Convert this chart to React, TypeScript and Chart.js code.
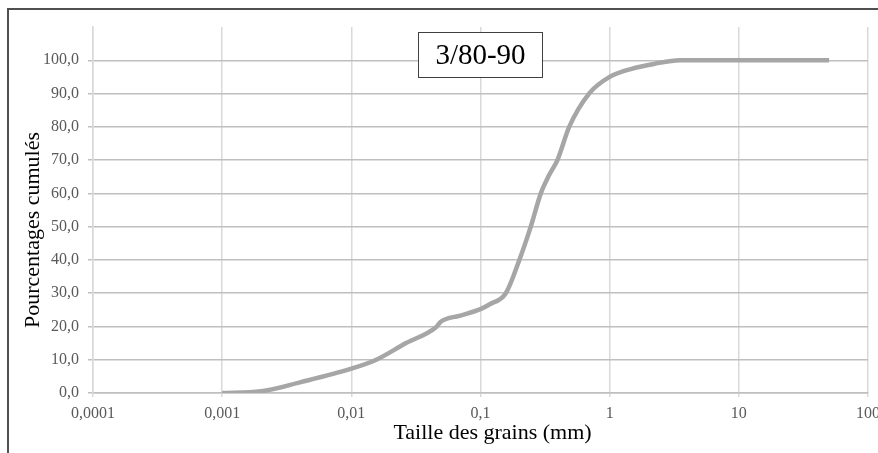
import React, { useEffect, useRef } from 'react';
import { Chart, registerables } from 'chart.js';

Chart.register(...registerables);

// ---- data ----
const grainSizes = [0.001, 0.002, 0.004, 0.01, 0.0156, 0.0265, 0.045, 0.0495, 0.0686, 0.1, 0.117, 0.157, 0.2, 0.245, 0.293, 0.34, 0.394, 0.486, 0.693, 1, 1.5, 2.2, 3.5, 50];
const cumulativePercent = [0, 0.5, 3.2, 7.3, 10, 15, 19.7, 21.5, 23.2, 25.2, 26.6, 30, 40, 50, 60, 65.5, 70, 80, 90, 95, 97.5, 98.9, 100, 100];
const xTickValues = [0.0001, 0.001, 0.01, 0.1, 1, 10, 100];
const yMin = 0;
const yMax = 110;
const yStep = 10;
const chartLabel = '3/80-90';
const xTitle = 'Taille des grains (mm)';
const yTitle = 'Pourcentages cumulés';

const SERIF = '"Liberation Serif", "Times New Roman", serif';

const fmtX = (v: number) => String(v).replace('.', ',');
const fmtY = (v: number) => (v >= yMax ? '' : v.toFixed(1).replace('.', ','));

const annotationsPlugin = {
  id: 'annotations',
  afterDraw(chart: any) {
    const { ctx, chartArea: a } = chart;
    const cx = (a.left + a.right) / 2;
    const cy = (a.top + a.bottom) / 2;
    ctx.save();
    ctx.fillStyle = '#000';
    ctx.font = `22px ${SERIF}`;
    ctx.textAlign = 'center';
    ctx.textBaseline = 'middle';
    ctx.fillText(xTitle, cx + 12, a.bottom + 40);
    ctx.save();
    ctx.translate(a.left - 60, cy + 20);
    ctx.rotate(-Math.PI / 2);
    ctx.fillText(yTitle, 0, 0);
    ctx.restore();

    // boxed label
    const bw = 124;
    const bh = 45;
    const bx = Math.round(cx - bw / 2) - 0.5;
    const by = Math.round(a.top + 5) + 0.5;
    ctx.fillStyle = '#fff';
    ctx.fillRect(bx, by, bw, bh);
    ctx.strokeStyle = '#404040';
    ctx.lineWidth = 1;
    ctx.strokeRect(bx, by, bw, bh);
    ctx.fillStyle = '#000';
    ctx.font = `29px ${SERIF}`;
    ctx.fillText(chartLabel, bx + bw / 2, by + bh / 2 + 1);
    ctx.restore();
  },
};

export default function App() {
  const canvasRef = useRef<HTMLCanvasElement | null>(null);

  useEffect(() => {
    const canvas = canvasRef.current;
    if (!canvas) return;
    const chart = new Chart(canvas, {
      type: 'line',
      data: {
        datasets: [
          {
            label: chartLabel,
            data: grainSizes.map((x, i) => ({ x, y: cumulativePercent[i] })),
            borderColor: '#A6A6A6',
            borderWidth: 4.5,
            pointRadius: 0,
            fill: false,
            cubicInterpolationMode: 'monotone',
          },
        ],
      },
      options: {
        animation: false,
        responsive: false,
        devicePixelRatio: 1,
        layout: { padding: { top: 27, right: 10, bottom: 0, left: 0 } },
        plugins: {
          legend: { display: false },
          tooltip: { enabled: false },
          title: { display: false },
        },
        scales: {
          x: {
            type: 'logarithmic',
            position: 'bottom',
            min: 0.0001,
            max: 100,
            afterBuildTicks: (s: any) => {
              s.ticks = xTickValues.map((v) => ({ value: v }));
            },
            afterFit: (s: any) => {
              s.height = 60;
              s.paddingLeft = 0;
              s.paddingRight = 0;
            },
            ticks: {
              autoSkip: false,
              maxRotation: 0,
              padding: 7,
              color: '#595959',
              font: { family: SERIF, size: 16 },
              callback: (v: any) => fmtX(Number(v)),
            },
            grid: { color: '#D9D9D9', lineWidth: 1.5, tickLength: 4 },
            border: { color: '#BFBFBF', width: 1.5 },
          },
          y: {
            type: 'linear',
            min: yMin,
            max: yMax,
            afterFit: (s: any) => {
              s.width = 93;
              s.paddingTop = 0;
              s.paddingBottom = 0;
            },
            ticks: {
              stepSize: yStep,
              padding: 9,
              color: '#595959',
              font: { family: SERIF, size: 16 },
              callback: (v: any) => fmtY(Number(v)),
            },
            grid: {
              color: (c: any) => (c.tick && c.tick.value >= yMax ? 'rgba(0,0,0,0)' : '#BFBFBF'),
              lineWidth: 1.5,
              tickLength: 5,
            },
            border: { color: '#D9D9D9', width: 1.5 },
          },
        },
      },
      plugins: [annotationsPlugin],
    } as any);
    return () => chart.destroy();
  }, []);

  return (
    <div style={{ position: 'fixed', left: 0, top: 0, width: 878, height: 453, overflow: 'hidden', background: '#fff' }}>
      <div
        style={{
          position: 'absolute',
          left: 7,
          top: 8,
          width: 1000,
          height: 1000,
          border: '2px solid #505050',
          boxSizing: 'border-box',
        }}
      />
      <canvas ref={canvasRef} width={878} height={453} style={{ position: 'absolute', left: 0, top: 0, width: 878, height: 453 }} />
    </div>
  );
}
